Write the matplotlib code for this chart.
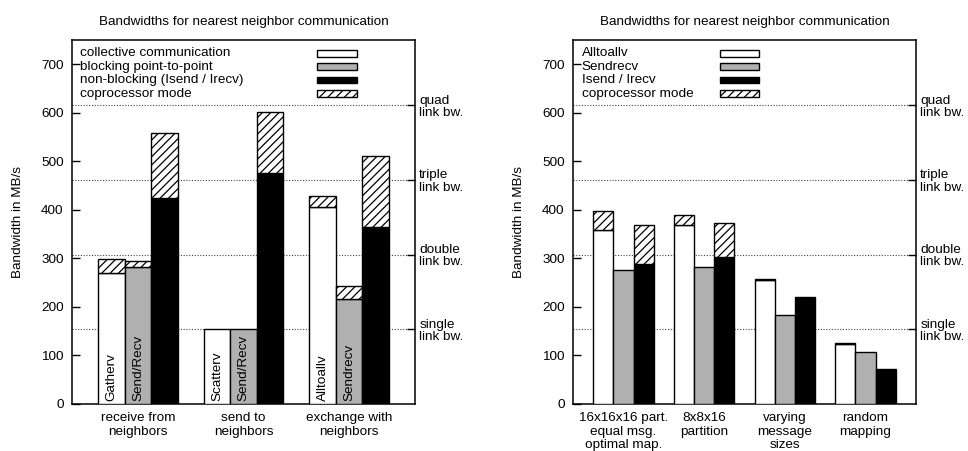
import matplotlib
matplotlib.use("Agg")
import matplotlib.pyplot as plt
from matplotlib.patches import Rectangle
import numpy as np

plt.rcParams['font.family'] = ['Liberation Sans', 'DejaVu Sans']
plt.rcParams['font.size'] = 9.7
plt.rcParams['hatch.linewidth'] = 0.9

title = "Bandwidths for nearest neighbor communication"
ylabel = "Bandwidth in MB/s"

# link bandwidth reference levels
link_values = [154, 308, 462, 616]
link_labels = ["single\nlink bw.", "double\nlink bw.", "triple\nlink bw.", "quad\nlink bw."]

# ---- left panel data ----
left_groups = ["receive from\nneighbors", "send to\nneighbors", "exchange with\nneighbors"]
left_series = ["collective communication", "blocking point-to-point",
               "non-blocking (Isend / Irecv)", "coprocessor mode"]
left_collective = [270, 154, 406]
left_collective_copro = [298, 154, 428]
left_blocking = [283, 154, 217]
left_blocking_copro = [295, 154, 243]
left_nonblocking = [424, 476, 365]
left_nonblocking_copro = [559, 601, 512]
left_collective_names = ["Gatherv", "Scatterv", "Alltoallv"]
left_blocking_names = ["Send/Recv", "Send/Recv", "Sendrecv"]

# ---- right panel data ----
right_groups = ["16x16x16 part.\nequal msg.\noptimal map.", "8x8x16\npartition",
                "varying\nmessage\nsizes", "random\nmapping"]
right_series = ["Alltoallv", "Sendrecv", "Isend / Irecv", "coprocessor mode"]
right_alltoallv = [358, 369, 256, 124]
right_alltoallv_copro = [397, 390, 257, 125]
right_sendrecv = [277, 282, 184, 108]
right_sendrecv_copro = [277, 282, 184, 108]
right_isend = [289, 302, 220, 72]
right_isend_copro = [368, 372, 220, 72]

colors = ["white", "#b0b0b0", "black"]
W = 0.25
FS = 9.7

fig = plt.figure(figsize=(9.68, 4.51), dpi=100)
axL = fig.add_axes([72/968, 47/451, 343/968, 364/451])
axR = fig.add_axes([573/968, 47/451, 343/968, 364/451])


def draw_panel(ax, groups, series, bases, copros, names=None, legend_x=(0.023, 0.714, 0.831)):
    n = len(groups)
    x = np.arange(n)
    offsets = [-W, 0, W]
    for k in range(3):
        b = np.array(bases[k], dtype=float)
        c = np.array(copros[k], dtype=float)
        ax.bar(x + offsets[k], b, width=W, color=colors[k], edgecolor='black',
               linewidth=1.0, zorder=3)
        extra = c - b
        mask = extra > 0
        if mask.any():
            ax.bar((x + offsets[k])[mask], extra[mask], bottom=b[mask], width=W,
                   color='white', edgecolor='black', hatch='////', linewidth=1.0, zorder=3)
    if names is not None:
        for k in range(2):
            for i, nm in enumerate(names[k]):
                ax.text(x[i] + offsets[k], 7, nm, rotation=90, ha='center', va='bottom',
                        fontsize=FS, zorder=5)
    for v in link_values:
        ax.axhline(v, color='#444444', linestyle=(0, (1, 1.5)), linewidth=0.8, zorder=1)
    ax.set_xlim(-0.625, n - 1 + 0.625)
    ax.set_ylim(0, 750)
    ax.set_yticks(range(0, 701, 100))
    ax.set_xticks(x)
    ax.set_xticklabels(groups, fontsize=FS, linespacing=1.15)
    ax.tick_params(axis='x', length=0, pad=6)
    ax.tick_params(axis='y', direction='in', length=6, width=1, pad=6, labelsize=FS)
    ax.set_title(title, fontsize=FS, pad=11)
    ax.set_ylabel(ylabel, fontsize=FS)
    ax.yaxis.set_label_coords(-0.14, 0.5)
    for s in ax.spines.values():
        s.set_linewidth(1.1)
    # right-side link bandwidth labels
    ax2 = ax.twinx()
    ax2.set_ylim(0, 750)
    ax2.set_yticks(link_values)
    ax2.set_yticklabels(link_labels, fontsize=FS, linespacing=1.05)
    ax2.tick_params(axis='y', direction='in', length=6, width=1, pad=3)
    for s in ax2.spines.values():
        s.set_visible(False)
    # gnuplot-style key: text left, swatch right
    tx, sx0, sx1 = legend_x
    ys = [0.964, 0.927, 0.890, 0.852]
    fills = colors + ['white']
    for j, lab in enumerate(series):
        ax.text(tx, ys[j], lab, transform=ax.transAxes, ha='left', va='center',
                fontsize=FS, zorder=6)
        r = Rectangle((sx0, ys[j] - 0.0095), sx1 - sx0, 0.019, transform=ax.transAxes,
                      facecolor=fills[j], edgecolor='black', linewidth=1.0,
                      hatch='////' if j == 3 else None, zorder=6)
        ax.add_patch(r)


draw_panel(axL, left_groups, left_series,
           [left_collective, left_blocking, left_nonblocking],
           [left_collective_copro, left_blocking_copro, left_nonblocking_copro],
           names=[left_collective_names, left_blocking_names],
           legend_x=(0.023, 0.714, 0.831))
draw_panel(axR, right_groups, right_series,
           [right_alltoallv, right_sendrecv, right_isend],
           [right_alltoallv_copro, right_sendrecv_copro, right_isend_copro],
           legend_x=(0.025, 0.43, 0.543))

fig.savefig("out.png", dpi=100)
